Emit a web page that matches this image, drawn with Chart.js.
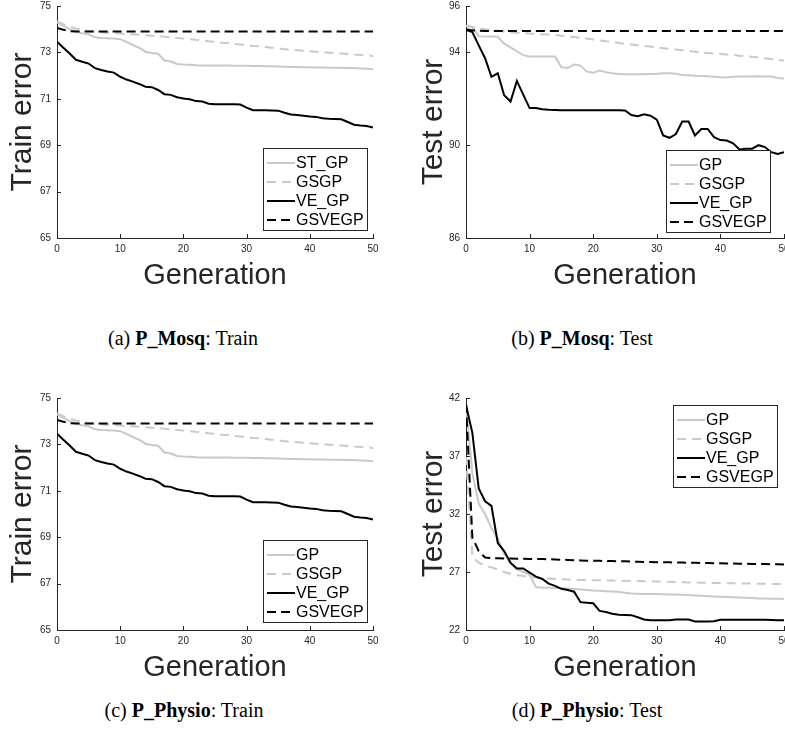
<!DOCTYPE html>
<html>
<head>
<meta charset="utf-8">
<script src="https://cdn.jsdelivr.net/npm/chart.js@4.4.1/dist/chart.umd.min.js"></script>
<style>
body { margin:0; background:#fff; width:785px; height:733px; position:relative; overflow:hidden; }
canvas { position:absolute; }
.cap { position:absolute; font-family:'Liberation Serif','Times New Roman',serif; font-size:20px; color:#000; transform:translateX(-50%); white-space:nowrap; }
</style>
</head>
<body>
<canvas id="cA" width="390" height="300" style="left:0;top:0"></canvas>
<canvas id="cB" width="373" height="300" style="left:412px;top:0"></canvas>
<canvas id="cC" width="390" height="300" style="left:0;top:392px"></canvas>
<canvas id="cD" width="373" height="300" style="left:412px;top:392px"></canvas>
<div class="cap" style="left:183px;top:327px">(a) <b>P_Mosq</b>: Train</div>
<div class="cap" style="left:582px;top:327px">(b) <b>P_Mosq</b>: Test</div>
<div class="cap" style="left:184px;top:699px">(c) <b>P_Physio</b>: Train</div>
<div class="cap" style="left:587px;top:699px">(d) <b>P_Physio</b>: Test</div>
<script>
var gens = [0,1,2,3,4,5,6,7,8,9,10,11,12,13,14,15,16,17,18,19,20,21,22,23,24,25,
            26,27,28,29,30,31,32,33,34,35,36,37,38,39,40,41,42,43,44,45,46,47,48,49,50];
var xTicks = [0, 10, 20, 30, 40, 50];

// P_Mosq train (same curves shown again for P_Physio train)
var trainYTicks = [65, 67, 69, 71, 73, 75];
var trainGP = [74.30,74.15,74.00,73.90,73.82,73.78,73.65,73.62,73.61,73.60,73.57,73.45,73.32,73.20,73.03,72.97,72.94,72.65,72.61,72.50,
               72.48,72.47,72.45,72.44,72.44,72.44,72.43,72.43,72.42,72.42,72.42,72.41,72.41,72.40,72.40,72.39,72.38,72.37,72.37,72.36,
               72.36,72.35,72.35,72.34,72.34,72.34,72.33,72.33,72.31,72.29,72.27];
var trainGSGP = [74.33,74.22,74.12,74.03,73.96,73.92,73.89,73.87,73.85,73.83,73.81,73.79,73.78,73.76,73.74,73.72,73.70,73.68,73.65,73.62,
                 73.60,73.57,73.54,73.51,73.48,73.45,73.42,73.40,73.37,73.34,73.31,73.28,73.26,73.23,73.20,73.17,73.14,73.11,73.09,73.07,
                 73.05,73.03,73.01,72.99,72.97,72.95,72.93,72.91,72.89,72.87,72.85];
var trainVE = [73.46,73.20,72.95,72.68,72.60,72.52,72.32,72.24,72.18,72.13,71.95,71.83,71.74,71.64,71.52,71.50,71.38,71.20,71.17,71.07,
               71.01,70.98,70.90,70.88,70.79,70.77,70.77,70.76,70.76,70.75,70.62,70.51,70.51,70.51,70.50,70.49,70.40,70.32,70.30,70.27,
               70.24,70.22,70.16,70.14,70.13,70.12,70.00,69.88,69.85,69.83,69.76];
var trainGSVE = [74.05,73.98,73.92,73.90,73.90,73.90,73.90,73.90,73.90,73.90,73.90,73.90,73.90,73.90,73.90,73.90,73.90,73.90,73.90,73.90,
                 73.90,73.90,73.90,73.90,73.90,73.90,73.90,73.90,73.90,73.90,73.90,73.90,73.90,73.90,73.90,73.90,73.90,73.90,73.90,73.90,
                 73.90,73.90,73.90,73.90,73.90,73.90,73.90,73.90,73.90,73.90,73.90];

// P_Mosq test
var mosqYTicks = [86, 90, 94, 96];
var mosqGP = [95.14,95.10,94.70,94.68,94.68,94.67,94.38,94.22,94.05,93.88,93.82,93.82,93.82,93.82,93.82,93.36,93.33,93.48,93.43,93.17,
              93.12,93.22,93.15,93.10,93.07,93.06,93.06,93.06,93.06,93.07,93.08,93.10,93.10,93.08,93.03,93.01,92.99,92.98,92.97,92.95,
              92.93,92.92,92.95,92.96,92.96,92.96,92.97,92.96,92.96,92.90,92.87];
var mosqGSGP = [95.14,95.10,95.04,95.00,94.96,94.93,94.90,94.87,94.85,94.83,94.81,94.80,94.78,94.77,94.75,94.72,94.69,94.66,94.63,94.60,
                94.56,94.52,94.48,94.45,94.41,94.37,94.34,94.31,94.28,94.25,94.21,94.18,94.15,94.12,94.09,94.06,94.03,94.00,93.97,93.95,
                93.93,93.91,93.89,93.86,93.84,93.81,93.78,93.75,93.72,93.68,93.65];
var mosqVE = [94.97,94.88,94.30,93.75,92.95,93.10,92.15,91.88,92.77,92.18,91.60,91.60,91.55,91.53,91.52,91.51,91.51,91.51,91.51,91.51,
              91.51,91.51,91.51,91.51,91.51,91.50,91.30,91.25,91.33,91.27,91.10,90.42,90.32,90.48,91.02,91.02,90.42,90.70,90.70,90.35,
              90.22,90.20,90.08,89.82,89.85,89.85,90.00,89.92,89.70,89.62,89.70];
var mosqGSVE = [95.00,94.95,94.93,94.92,94.92,94.92,94.92,94.92,94.92,94.92,94.92,94.92,94.92,94.92,94.92,94.92,94.92,94.92,94.92,94.92,
                94.92,94.92,94.92,94.92,94.92,94.92,94.92,94.92,94.92,94.92,94.92,94.92,94.92,94.92,94.92,94.92,94.92,94.92,94.92,94.92,
                94.92,94.92,94.92,94.92,94.92,94.92,94.92,94.92,94.92,94.92,94.92];

// P_Physio test
var physYTicks = [22, 27, 32, 37, 42];
var physGP = [41.50,35.50,32.90,32.00,30.80,29.90,28.60,27.70,27.25,27.00,26.75,25.70,25.65,25.65,25.62,25.60,25.57,25.54,25.50,25.45,
              25.40,25.38,25.35,25.32,25.30,25.22,25.15,25.12,25.10,25.10,25.10,25.08,25.07,25.05,25.04,25.02,24.98,24.95,24.92,24.89,
              24.87,24.85,24.82,24.80,24.78,24.75,24.72,24.71,24.70,24.69,24.68];
var physGSGP = [37.00,28.30,27.80,27.55,27.40,27.20,27.00,26.85,26.75,26.65,26.58,26.52,26.47,26.43,26.40,26.38,26.35,26.33,26.31,26.30,
                26.29,26.28,26.27,26.26,26.25,26.24,26.23,26.22,26.21,26.20,26.19,26.18,26.16,26.14,26.12,26.10,26.09,26.08,26.07,26.06,
                26.05,26.04,26.03,26.02,26.01,26.00,25.99,25.98,25.97,25.96,25.96];
var physVE = [41.40,39.00,34.20,33.10,32.70,29.50,28.80,27.80,27.30,27.30,26.95,26.60,26.40,26.00,25.80,25.55,25.45,25.30,24.40,24.35,
              24.30,23.65,23.55,23.40,23.32,23.30,23.28,23.10,22.90,22.84,22.84,22.84,22.84,22.90,22.90,22.90,22.74,22.74,22.74,22.76,
              22.88,22.88,22.88,22.88,22.88,22.88,22.88,22.88,22.87,22.84,22.84];
var physGSVE = [41.50,30.00,28.80,28.25,28.20,28.18,28.17,28.16,28.15,28.14,28.13,28.12,28.11,28.10,28.08,28.06,28.04,28.02,28.00,27.98,
                27.97,27.96,27.95,27.94,27.93,27.92,27.90,27.89,27.87,27.86,27.85,27.84,27.83,27.82,27.81,27.80,27.79,27.78,27.77,27.76,
                27.75,27.74,27.73,27.72,27.71,27.70,27.69,27.68,27.67,27.66,27.65];

var SANS = "'Liberation Sans', Arial, Helvetica, sans-serif";
var AXIS = '#262626';
var GREY = '#c9c9c9';

// inward tick marks + boxed legend inside the axes, matlab style
var panelDeco = {
    id: 'panelDeco',
    afterDraw: function(chart, args, opts) {
        var ctx = chart.ctx, a = chart.chartArea;
        var xs = chart.scales.x, ys = chart.scales.y;
        ctx.save();
        ctx.strokeStyle = AXIS;
        ctx.lineWidth = 1;
        ctx.setLineDash([]);
        ctx.beginPath();
        xs.ticks.forEach(function(t) {
            var p = Math.round(xs.getPixelForValue(t.value)) + 0.5;
            ctx.moveTo(p, a.bottom); ctx.lineTo(p, a.bottom - 4);
        });
        ys.ticks.forEach(function(t) {
            var p = Math.round(ys.getPixelForValue(t.value)) + 0.5;
            ctx.moveTo(a.left, p); ctx.lineTo(a.left + 4, p);
        });
        ctx.stroke();

        var bx = opts.x, by = opts.y, bw = 104, bh = 82;
        ctx.fillStyle = '#fff';
        ctx.fillRect(bx, by, bw, bh);
        ctx.strokeStyle = AXIS;
        ctx.strokeRect(bx + 0.5, by + 0.5, bw, bh);
        ctx.font = '16px ' + SANS;
        ctx.textBaseline = 'middle';
        ctx.textAlign = 'left';
        chart.data.datasets.forEach(function(ds, i) {
            var ry = by + 15 + i * 19;
            ctx.strokeStyle = ds.borderColor;
            ctx.lineWidth = ds.borderWidth;
            ctx.setLineDash(ds.borderDash || []);
            ctx.beginPath();
            ctx.moveTo(bx + 4, ry); ctx.lineTo(bx + 32, ry);
            ctx.stroke();
            ctx.fillStyle = '#000';
            ctx.fillText(ds.label, bx + 33, ry + 1);
        });
        ctx.restore();
    }
};

function panel(id, yTitle, yMin, yMax, yTicks, labels, series, yW, titlePad, padRight, legendPos) {
    var styles = [
        { color: GREY, dash: [] },
        { color: GREY, dash: [9, 6] },
        { color: '#000', dash: [] },
        { color: '#000', dash: [9, 5] }
    ];
    var ds = series.map(function(s, i) {
        return {
            label: labels[i], data: s,
            borderColor: styles[i].color, borderDash: styles[i].dash,
            borderWidth: 2, pointRadius: 0, tension: 0, fill: false,
            order: 3 - i
        };
    });
    return new Chart(document.getElementById(id), {
        type: 'line',
        data: { labels: gens, datasets: ds },
        plugins: [panelDeco],
        options: {
            responsive: false, animation: false, devicePixelRatio: 1,
            layout: { padding: { left: 0, top: 6, right: padRight, bottom: 0 } },
            plugins: { legend: { display: false }, tooltip: { enabled: false }, panelDeco: legendPos },
            scales: {
                x: {
                    type: 'linear', min: 0, max: 50,
                    afterBuildTicks: function(s) { s.ticks = xTicks.map(function(v) { return { value: v }; }); },
                    afterFit: function(s) { s.height = 62; s.paddingLeft = 0; s.paddingRight = 0; },
                    grid: { display: true, drawOnChartArea: false, drawTicks: false },
                    border: { display: true, color: AXIS, width: 1 },
                    ticks: { color: AXIS, padding: 5, maxRotation: 0, font: { family: SANS, size: 10 } },
                    title: { display: true, text: 'Generation', color: AXIS,
                             font: { family: SANS, size: 29 }, padding: { top: 0, bottom: 7 } }
                },
                y: {
                    type: 'linear', min: yMin, max: yMax,
                    afterBuildTicks: function(s) { s.ticks = yTicks.map(function(v) { return { value: v }; }); },
                    afterFit: function(s) { s.width = yW; s.paddingTop = 0; s.paddingBottom = 0; },
                    grid: { display: true, drawOnChartArea: false, drawTicks: false },
                    border: { display: true, color: AXIS, width: 1 },
                    ticks: { color: AXIS, padding: 6, font: { family: SANS, size: 10 } },
                    title: { display: true, text: yTitle, color: AXIS,
                             font: { family: SANS, size: 30 }, padding: { top: titlePad, bottom: 0 } }
                }
            }
        }
    });
}

panel('cA', 'Train error', 65, 75, trainYTicks, ['ST_GP', 'GSGP', 'VE_GP', 'GSVEGP'],
      [trainGP, trainGSGP, trainVE, trainGSVE], 57, 4.5, 17, { x: 263, y: 148 });
panel('cB', 'Test error', 86, 96, mosqYTicks, ['GP', 'GSGP', 'VE_GP', 'GSVEGP'],
      [mosqGP, mosqGSGP, mosqVE, mosqGSVE], 54, 4, 1, { x: 254, y: 150 });
panel('cC', 'Train error', 65, 75, trainYTicks, ['GP', 'GSGP', 'VE_GP', 'GSVEGP'],
      [trainGP, trainGSGP, trainVE, trainGSVE], 57, 4.5, 17, { x: 263, y: 148 });
panel('cD', 'Test error', 22, 42, physYTicks, ['GP', 'GSGP', 'VE_GP', 'GSVEGP'],
      [physGP, physGSGP, physVE, physGSVE], 54, 4, 1, { x: 261, y: 13 });
</script>
</body>
</html>
